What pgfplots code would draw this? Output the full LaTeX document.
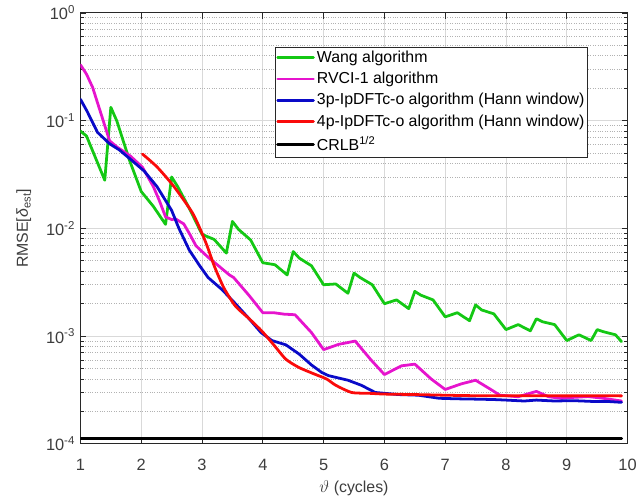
\documentclass[border=0pt]{standalone}
\usepackage{pgfplots}
\pgfplotsset{compat=1.18}
\usepackage{fontspec}
\setmainfont{Liberation Sans}

\definecolor{wangG}{RGB}{20,200,20}
\definecolor{rvciM}{RGB}{230,20,205}
\definecolor{threeB}{RGB}{10,10,200}
\definecolor{fourR}{RGB}{250,10,10}
\definecolor{frameC}{RGB}{40,40,40}

\tikzset{curve/.style={line width=2.8pt, line join=round, line cap=round}}

\begin{document}
\fontsize{16}{19}\selectfont
\begin{tikzpicture}
\begin{axis}[
  scale only axis,
  width=551pt, height=434pt,
  at={(0,0)}, anchor=south west,
  xmin=1, xmax=10,
  ymode=log, ymin=1e-4, ymax=1,
  xtick={1,2,...,10},
  ytick={1e-4,1e-3,1e-2,1e-1,1},
  yticklabels={10\textsuperscript{-4},10\textsuperscript{-3},10\textsuperscript{-2},10\textsuperscript{-1},10\textsuperscript{0}},
  /pgf/number format/assume math mode=true,
  ticklabel style={font=\fontsize{16.5}{19}\selectfont, text=frameC!90},
  xticklabel style={yshift=-10pt},
  label style={font=\fontsize{16}{19}\selectfont, text=frameC!90},
  grid=both,
  major grid style={black!15, line width=0.9pt},
  minor grid style={black!30, dotted, line width=0.9pt},
  axis line style={frameC, line width=0.9pt},
  tick style={frameC, line width=0.8pt},
  tick align=inside,
  major tick length=6pt, minor tick length=3.5pt,
  xlabel={$\vartheta$ (cycles)},
  ylabel={RMSE[\textit{δ}\textsubscript{est}]},
  xlabel style={yshift=1pt},
  ylabel style={yshift=4pt},
  legend cell align=left,
  legend style={
    at={(0.927,0.922)}, anchor=north east,
    draw=frameC,
    font=\fontsize{16}{19}\selectfont,
    inner xsep=1pt, inner ysep=2pt,
    row sep=3.5pt,
  },
  legend image code/.code={\draw[#1] (0pt,0pt) -- (36pt,0pt);},
]
% Wang algorithm
\addplot[wangG, curve] coordinates {
(1.0,0.080) (1.1,0.072) (1.4,0.028) (1.5,0.133) (1.6,0.099) (1.8,0.044)
(2.0,0.022) (2.2,0.016) (2.4,0.0109) (2.5,0.030) (2.6,0.0244) (2.8,0.0150)
(3.0,0.0088) (3.2,0.0079) (3.4,0.0059) (3.5,0.0116) (3.6,0.0098) (3.8,0.0078)
(4.0,0.0048) (4.2,0.0046) (4.4,0.0037) (4.5,0.0061) (4.6,0.0053) (4.8,0.0045)
(5.0,0.0030) (5.2,0.00305) (5.4,0.0025) (5.5,0.00385) (5.6,0.0035) (5.8,0.0030)
(6.0,0.0020) (6.2,0.00217) (6.4,0.0018) (6.5,0.0026) (6.6,0.0024) (6.8,0.00217)
(7.0,0.00151) (7.2,0.00165) (7.4,0.00139) (7.5,0.00195) (7.6,0.00175) (7.8,0.00161)
(8.0,0.00115) (8.2,0.00128) (8.4,0.00112) (8.5,0.00145) (8.6,0.00136) (8.8,0.00128)
(9.0,0.00091) (9.2,0.00103) (9.4,0.00091) (9.5,0.00115) (9.6,0.00110) (9.8,0.00103)
(9.9,0.00089)
};
\addlegendentry{Wang algorithm}
% RVCI-1 algorithm
\addplot[rvciM, curve] coordinates {
(1.0,0.33) (1.1,0.27) (1.2,0.204) (1.33,0.12) (1.48,0.065) (1.6,0.057)
(1.82,0.047) (2.02,0.037) (2.2,0.0244) (2.3,0.018) (2.4,0.0128) (2.5,0.0121)
(2.57,0.0122) (2.7,0.0110) (2.8,0.0088) (2.9,0.0069) (3.0,0.0061) (3.1,0.0054)
(3.25,0.0046) (3.45,0.0037) (3.52,0.0035) (3.77,0.0024) (4.0,0.00165) (4.18,0.00165)
(4.35,0.0016) (4.53,0.00158) (4.8,0.00108) (5.0,0.00075) (5.25,0.00084) (5.52,0.00090)
(5.77,0.00061) (6.0,0.00044) (6.28,0.00053) (6.5,0.00055) (6.77,0.00040) (7.0,0.00032)
(7.26,0.00036) (7.5,0.00039) (7.75,0.00032) (7.9,0.000283) (8.2,0.000274) (8.5,0.000307)
(8.7,0.000274) (8.9,0.000265) (9.1,0.000270) (9.35,0.000275) (9.6,0.000265) (9.9,0.000250)
};
\addlegendentry{RVCI-1 algorithm}
% 3p-IpDFTc-o algorithm
\addplot[threeB, curve] coordinates {
(1.0,0.158) (1.11,0.122) (1.28,0.078) (1.48,0.061) (1.64,0.0535) (1.82,0.044)
(2.05,0.034) (2.26,0.0244) (2.5,0.0147) (2.62,0.0100) (2.79,0.0063) (2.95,0.0046)
(3.1,0.0035) (3.33,0.0027) (3.55,0.0020) (3.77,0.00146) (3.97,0.00108) (4.15,0.00091)
(4.38,0.00083) (4.6,0.00068) (4.8,0.00054) (4.97,0.00046) (5.08,0.00043) (5.4,0.00039)
(5.62,0.00035) (5.85,0.00030) (6.23,0.000287) (6.56,0.000283) (6.9,0.000265) (7.2,0.000262)
(7.54,0.00026) (7.8,0.000258) (8.0,0.000255) (8.3,0.00025) (8.5,0.000255) (8.8,0.00025)
(9.1,0.000252) (9.4,0.000248) (9.7,0.000247) (9.9,0.000243)
};
\addlegendentry{3p-IpDFTc-o algorithm (Hann window)}
% 4p-IpDFTc-o algorithm
\addplot[fourR, curve, smooth, tension=0.4] coordinates {
(2.02,0.049) (2.26,0.0372) (2.54,0.0244) (2.84,0.0140) (3.0,0.0090) (3.1,0.0065)
(3.2,0.0045) (3.36,0.0028) (3.55,0.0019) (3.77,0.00146) (3.98,0.00112) (4.18,0.00083)
(4.38,0.00061) (4.6,0.00051) (4.87,0.00044) (5.05,0.00040) (5.2,0.00035) (5.46,0.00030)
(5.74,0.000295) (6.0,0.00029) (6.5,0.000287) (7.0,0.000283) (7.5,0.00028) (8.0,0.00028)
(8.5,0.00028) (9.0,0.000279) (9.5,0.00028) (9.9,0.000279)
};
\addlegendentry{4p-IpDFTc-o algorithm (Hann window)}
% Cramer-Rao lower bound
\addplot[black, curve, line width=3pt] coordinates {(1,1.13e-4) (9.9,1.13e-4)};
\addlegendentry{CRLB\textsuperscript{1/2}}
\end{axis}
\useasboundingbox (-81pt,-58pt) rectangle (561pt,447pt);
\end{tikzpicture}
\end{document}
